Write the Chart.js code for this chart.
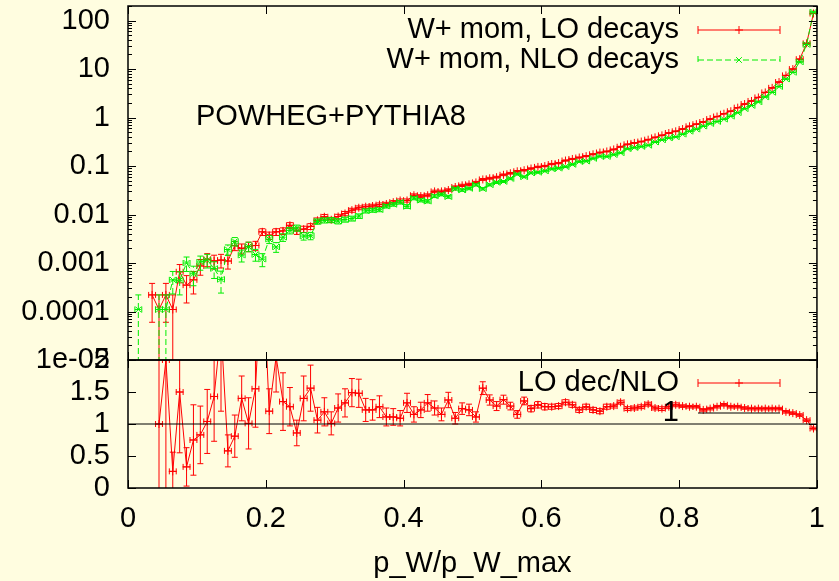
<!DOCTYPE html>
<html>
<head>
<meta charset="utf-8">
<script src="https://cdn.jsdelivr.net/npm/chart.js@4/dist/chart.umd.min.js"></script>
<style>
  html, body { margin: 0; padding: 0; background: #fffde0; }
  #wrap { width: 839px; height: 581px; }
</style>
</head>
<body>
<div id="wrap"><canvas id="c" width="839" height="581"></canvas></div>
<script>
// bin centres of p_W/p_W_max
const xBins = [
  0.005, 0.015, 0.025, 0.035, 0.045, 0.055, 0.065, 0.075, 0.085, 0.095,
  0.105, 0.115, 0.125, 0.135, 0.145, 0.155, 0.165, 0.175, 0.185, 0.195,
  0.205, 0.215, 0.225, 0.235, 0.245, 0.255, 0.265, 0.275, 0.285, 0.295,
  0.305, 0.315, 0.325, 0.335, 0.345, 0.355, 0.365, 0.375, 0.385, 0.395,
  0.405, 0.415, 0.425, 0.435, 0.445, 0.455, 0.465, 0.475, 0.485, 0.495,
  0.505, 0.515, 0.525, 0.535, 0.545, 0.555, 0.565, 0.575, 0.585, 0.595,
  0.605, 0.615, 0.625, 0.635, 0.645, 0.655, 0.665, 0.675, 0.685, 0.695,
  0.705, 0.715, 0.725, 0.735, 0.745, 0.755, 0.765, 0.775, 0.785, 0.795,
  0.805, 0.815, 0.825, 0.835, 0.845, 0.855, 0.865, 0.875, 0.885, 0.895,
  0.905, 0.915, 0.925, 0.935, 0.945, 0.955, 0.965, 0.975, 0.985, 0.995
];
const halfBin = 0.005;

// W+ mom, LO decays
const loDecays = [
  null, null, null, 2.2e-4, 1.1e-4, 2.2e-4, 1.1e-4, 6.6e-4, 3.5e-4, 4.5e-4,
  8.7e-4, 1.2e-3, 1.1e-3, 1.15e-3, 1.1e-3, 2.3e-3, 2.0e-3, 2.2e-3, 2.3e-3, 4.4e-3,
  3.7e-3, 4.4e-3, 4.6e-3, 6.0e-3, 4.6e-3, 5.0e-3, 5.7e-3, 7.6e-3, 9.0e-3, 7.8e-3,
  9.1e-3, 1.05e-2, 1.23e-2, 1.38e-2, 1.45e-2, 1.5e-2, 1.6e-2, 1.65e-2, 1.8e-2, 1.95e-2,
  1.95e-2, 2.5e-2, 2.4e-2, 2.5e-2, 3.0e-2, 3.0e-2, 3.2e-2, 3.7e-2, 4.0e-2, 4.2e-2,
  4.6e-2, 5.3e-2, 5.6e-2, 5.9e-2, 6.6e-2, 7.1e-2, 7.8e-2, 8.2e-2, 8.9e-2, 9.6e-2,
  0.100, 0.110, 0.115, 0.130, 0.140, 0.150, 0.160, 0.175, 0.190, 0.200,
  0.220, 0.250, 0.280, 0.300, 0.320, 0.350, 0.390, 0.430, 0.480, 0.520,
  0.580, 0.660, 0.730, 0.810, 0.930, 1.05, 1.20, 1.35, 1.60, 1.90,
  2.20, 2.60, 3.30, 4.10, 5.40, 7.40, 10.0, 16.0, 34.0, 140
];
const loErr = [
  0, 0, 0, 1.6e-4, 1.1e-4, 1.6e-4, 1.1e-4, 2.7e-4, 2.0e-4, 2.2e-4,
  3.1e-4, 3.6e-4, 3.5e-4, 3.6e-4, 3.5e-4, 5.0e-4, 4.7e-4, 4.9e-4, 5.0e-4, 7.0e-4,
  6.4e-4, 7.0e-4, 7.1e-4, 8.1e-4, 7.1e-4, 7.4e-4, 7.9e-4, 9.1e-4, 1.0e-3, 9.3e-4,
  1.0e-3, 1.07e-3, 1.16e-3, 1.23e-3, 1.26e-3, 1.28e-3, 1.33e-3, 1.35e-3, 1.4e-3, 1.46e-3,
  1.46e-3, 1.66e-3, 1.62e-3, 1.66e-3, 1.8e-3, 1.8e-3, 1.9e-3, 2.0e-3, 2.1e-3, 2.15e-3,
  2.25e-3, 2.4e-3, 2.5e-3, 2.5e-3, 2.7e-3, 2.8e-3, 2.9e-3, 3.0e-3, 3.1e-3, 3.2e-3,
  3.3e-3, 3.5e-3, 3.6e-3, 3.8e-3, 3.9e-3, 4.1e-3, 4.2e-3, 4.4e-3, 4.6e-3, 4.7e-3,
  4.9e-3, 5.2e-3, 5.5e-3, 5.7e-3, 5.9e-3, 6.2e-3, 6.5e-3, 6.9e-3, 7.3e-3, 7.6e-3,
  8.0e-3, 8.5e-3, 9.0e-3, 9.4e-3, 1.0e-2, 1.07e-2, 1.15e-2, 1.2e-2, 1.3e-2, 1.45e-2,
  1.56e-2, 1.7e-2, 1.9e-2, 2.1e-2, 2.4e-2, 2.9e-2, 3.3e-2, 4.2e-2, 6.1e-2, 0.124
];

// W+ mom, NLO decays
const nloDecays = [
  null, 1.1e-4, null, null, 1.1e-4, 1.1e-4, 4.5e-4, 4.4e-4, 1.0e-3, 6.0e-4,
  1.05e-3, 1.15e-3, 7.7e-4, 4.6e-4, 1.9e-3, 2.8e-3, 1.45e-3, 2.2e-3, 1.5e-3, 1.2e-3,
  3.1e-3, 2.15e-3, 3.4e-3, 4.7e-3, 5.3e-3, 3.6e-3, 3.65e-3, 7.2e-3, 7.6e-3, 7.7e-3,
  7.3e-3, 7.9e-3, 8.3e-3, 9.3e-3, 1.19e-2, 1.23e-2, 1.26e-2, 1.49e-2, 1.62e-2, 1.79e-2,
  1.47e-2, 2.17e-2, 1.97e-2, 1.88e-2, 2.4e-2, 2.6e-2, 2.33e-2, 3.4e-2, 3.2e-2, 3.45e-2,
  4.1e-2, 3.4e-2, 4.1e-2, 4.6e-2, 4.8e-2, 5.5e-2, 6.8e-2, 6.0e-2, 7.2e-2, 7.4e-2,
  7.9e-2, 8.7e-2, 9.0e-2, 9.7e-2, 0.108, 0.123, 0.126, 0.143, 0.158, 0.157,
  0.172, 0.187, 0.226, 0.240, 0.252, 0.267, 0.312, 0.347, 0.378, 0.400,
  0.453, 0.520, 0.575, 0.664, 0.750, 0.827, 0.923, 1.063, 1.26, 1.52,
  1.77, 2.10, 2.66, 3.31, 4.35, 6.22, 8.55, 14.0, 32.1, 150
];
const nloErr = [
  0, 1.1e-4, 0, 0, 1.1e-4, 1.1e-4, 2.2e-4, 2.2e-4, 3.3e-4, 2.6e-4,
  3.4e-4, 3.6e-4, 2.9e-4, 2.2e-4, 4.6e-4, 5.5e-4, 4.0e-4, 4.9e-4, 4.1e-4, 3.6e-4,
  5.8e-4, 4.9e-4, 6.1e-4, 7.2e-4, 7.6e-4, 6.3e-4, 6.3e-4, 8.9e-4, 9.1e-4, 9.2e-4,
  9.0e-4, 9.3e-4, 9.6e-4, 1.0e-3, 1.14e-3, 1.16e-3, 1.18e-3, 1.28e-3, 1.33e-3, 1.4e-3,
  1.27e-3, 1.55e-3, 1.47e-3, 1.44e-3, 1.62e-3, 1.7e-3, 1.6e-3, 1.93e-3, 1.88e-3, 1.95e-3,
  2.1e-3, 1.93e-3, 2.1e-3, 2.25e-3, 2.3e-3, 2.5e-3, 2.7e-3, 2.6e-3, 2.8e-3, 2.85e-3,
  2.95e-3, 3.1e-3, 3.15e-3, 3.3e-3, 3.45e-3, 3.7e-3, 3.7e-3, 4.0e-3, 4.2e-3, 4.2e-3,
  4.35e-3, 4.5e-3, 5.0e-3, 5.1e-3, 5.3e-3, 5.4e-3, 5.9e-3, 6.2e-3, 6.4e-3, 6.6e-3,
  7.1e-3, 7.6e-3, 8.0e-3, 8.5e-3, 9.1e-3, 9.5e-3, 1.0e-2, 1.08e-2, 1.18e-2, 1.3e-2,
  1.4e-2, 1.5e-2, 1.7e-2, 1.9e-2, 2.2e-2, 2.6e-2, 3.1e-2, 3.9e-2, 5.9e-2, 0.128
];

// LO dec/NLO
const ratio = [
  null, null, null, null, 1.0, 2.0, 0.26, 1.5, 0.33, 0.75,
  0.83, 1.04, 1.43, 2.5, 0.58, 0.81, 1.4, 1.01, 1.55, 3.6,
  1.2, 2.05, 1.35, 1.27, 0.86, 1.4, 1.56, 1.06, 1.19, 1.01,
  1.25, 1.33, 1.49, 1.48, 1.22, 1.22, 1.27, 1.11, 1.11, 1.09,
  1.33, 1.15, 1.22, 1.33, 1.25, 1.15, 1.375, 1.09, 1.24, 1.22,
  1.11, 1.56, 1.375, 1.28, 1.38, 1.28, 1.15, 1.36, 1.24, 1.3,
  1.27, 1.27, 1.28, 1.34, 1.30, 1.22, 1.27, 1.22, 1.2, 1.27,
  1.28, 1.34, 1.24, 1.25, 1.27, 1.31, 1.25, 1.24, 1.27, 1.3,
  1.28, 1.27, 1.27, 1.22, 1.24, 1.27, 1.3, 1.27, 1.27, 1.25,
  1.24, 1.24, 1.24, 1.24, 1.24, 1.19, 1.17, 1.14, 1.06, 0.93
];
const ratioErr = [
  0, 0, 0, 0, 1.4, 2.4, 0.3, 0.95, 0.3, 0.55,
  0.45, 0.5, 0.7, 1.3, 0.25, 0.33, 0.35, 0.4, 0.6, 1.2,
  0.35, 0.55, 0.45, 0.3, 0.2, 0.35, 0.36, 0.2, 0.22, 0.18,
  0.22, 0.22, 0.22, 0.22, 0.18, 0.16, 0.17, 0.14, 0.13, 0.12,
  0.15, 0.12, 0.12, 0.13, 0.11, 0.1, 0.12, 0.09, 0.09, 0.09,
  0.08, 0.1, 0.08, 0.07, 0.07, 0.06, 0.06, 0.06, 0.05, 0.05,
  0.05, 0.04, 0.04, 0.04, 0.04, 0.04, 0.04, 0.04, 0.04, 0.04,
  0.03, 0.03, 0.03, 0.03, 0.03, 0.03, 0.03, 0.03, 0.03, 0.03,
  0.02, 0.02, 0.02, 0.02, 0.02, 0.02, 0.02, 0.02, 0.02, 0.02,
  0.02, 0.02, 0.02, 0.02, 0.02, 0.02, 0.02, 0.02, 0.02, 0.02
];

// the constant 1 drawn in the ratio panel
const unityX = [0, 1];
const unityY = [1, 1];

const xTicks = [0, 0.2, 0.4, 0.6, 0.8, 1];
const xTickLabels = ['0', '0.2', '0.4', '0.6', '0.8', '1'];
const logTicks = [1e-5, 1e-4, 1e-3, 1e-2, 0.1, 1, 10, 100];
const logTickLabels = ['1e-05', '0.0001', '0.001', '0.01', '0.1', '1', '10', '100'];
const ratioTicks = [0, 0.5, 1, 1.5, 2];
const ratioTickLabels = ['0', '0.5', '1', '1.5', '2'];

const RED = '#ff0000';
const GREEN = '#00ee00';
const FONT = 'Liberation Sans, Arial, sans-serif';
const FSIZE = 29;

Chart.defaults.font.family = FONT;
Chart.defaults.font.size = FSIZE;
Chart.defaults.color = '#000';

function toPoints(xs, ys) {
  return xs.map((x, i) => ({ x: x, y: ys[i] }));
}

function drawErrorBars(chart, ds) {
  const ctx = chart.ctx;
  const xs = chart.scales.x;
  const ys = chart.scales[ds.yAxisID];
  const cap = 3;
  ctx.save();
  ctx.strokeStyle = ds.borderColor;
  ctx.lineWidth = 1;
  ctx.setLineDash(ds.borderDash || []);
  ds.data.forEach((p, i) => {
    if (p.y == null) return;
    const e = ds.errors[i];
    const px = xs.getPixelForValue(p.x);
    const py = ys.getPixelForValue(p.y);
    const x0 = xs.getPixelForValue(p.x - halfBin);
    const x1 = xs.getPixelForValue(p.x + halfBin);
    const yHi = ys.getPixelForValue(p.y + e);
    const lo = p.y - e;
    const lowOff = ys.type === 'logarithmic' && lo <= 0;
    const yLo = lowOff ? ys.bottom + 30 : ys.getPixelForValue(lo);
    ctx.beginPath();
    // vertical bar with caps
    ctx.moveTo(px, yLo); ctx.lineTo(px, yHi);
    ctx.moveTo(px - cap, yHi); ctx.lineTo(px + cap, yHi);
    if (!lowOff) { ctx.moveTo(px - cap, yLo); ctx.lineTo(px + cap, yLo); }
    // horizontal bar with caps
    ctx.moveTo(x0, py); ctx.lineTo(x1, py);
    ctx.moveTo(x0, py - cap); ctx.lineTo(x0, py + cap);
    ctx.moveTo(x1, py - cap); ctx.lineTo(x1, py + cap);
    ctx.stroke();
  });
  ctx.restore();
}

function drawKey(ctx, text, y, color, dash, pointStyle, caps) {
  const textRight = 679, s0 = 698, s1 = 780;
  ctx.save();
  ctx.fillStyle = '#000';
  ctx.font = FSIZE + 'px ' + FONT;
  ctx.textAlign = 'right';
  ctx.textBaseline = 'middle';
  ctx.fillText(text, textRight, y);
  ctx.strokeStyle = color;
  ctx.lineWidth = 1;
  ctx.setLineDash(dash);
  ctx.beginPath();
  ctx.moveTo(s0, y); ctx.lineTo(s1, y);
  if (caps) {
    ctx.moveTo(s0, y - 4); ctx.lineTo(s0, y + 4);
    ctx.moveTo(s1, y - 4); ctx.lineTo(s1, y + 4);
  }
  ctx.stroke();
  ctx.setLineDash([]);
  if (pointStyle) {
    Chart.helpers.drawPoint(ctx, { pointStyle: pointStyle, radius: 4, borderWidth: 1, rotation: 0 }, (s0 + s1) / 2, y);
  }
  ctx.restore();
}

const panelPlugin = {
  id: 'panels',
  beforeDatasetDraw(chart, args) {
    const ds = chart.data.datasets[args.index];
    const xs = chart.scales.x;
    const ys = chart.scales[ds.yAxisID];
    const ctx = chart.ctx;
    ctx.save();
    ctx.beginPath();
    ctx.rect(xs.left, ys.top, xs.right - xs.left, ys.bottom - ys.top);
    ctx.clip();
  },
  afterDatasetDraw(chart, args) {
    const ds = chart.data.datasets[args.index];
    if (ds.errors) drawErrorBars(chart, ds);
    chart.ctx.restore();
  },
  afterDraw(chart) {
    const ctx = chart.ctx;
    const xs = chart.scales.x;
    const yTop = chart.scales.y;
    const yRat = chart.scales.yr;
    const L = xs.left, R = xs.right;
    const major = 8, minor = 4;
    ctx.save();
    ctx.strokeStyle = '#000';
    ctx.lineWidth = 1;
    ctx.beginPath();
    // y ticks, log panel
    logTicks.forEach(v => {
      const p = Math.round(yTop.getPixelForValue(v)) + 0.5;
      ctx.moveTo(L, p); ctx.lineTo(L + major, p);
      ctx.moveTo(R, p); ctx.lineTo(R - major, p);
      for (let m = 2; m <= 9; m++) {
        const mv = v * m;
        if (mv > yTop.max) break;
        const q = Math.round(yTop.getPixelForValue(mv)) + 0.5;
        ctx.moveTo(L, q); ctx.lineTo(L + minor, q);
        ctx.moveTo(R, q); ctx.lineTo(R - minor, q);
      }
    });
    // y ticks, ratio panel
    ratioTicks.forEach(v => {
      const p = Math.round(yRat.getPixelForValue(v)) + 0.5;
      ctx.moveTo(L, p); ctx.lineTo(L + major, p);
      ctx.moveTo(R, p); ctx.lineTo(R - major, p);
    });
    // x ticks on both panels
    xTicks.forEach(v => {
      const p = Math.round(xs.getPixelForValue(v)) + 0.5;
      [yTop, yRat].forEach(s => {
        ctx.moveTo(p, s.top); ctx.lineTo(p, s.top + major);
        ctx.moveTo(p, s.bottom); ctx.lineTo(p, s.bottom - major);
      });
    });
    ctx.stroke();
    // frames
    ctx.lineWidth = 1.5;
    [yTop, yRat].forEach(s => {
      ctx.strokeRect(L, s.top, R - L, s.bottom - s.top);
    });
    ctx.restore();

    // keys
    const ds = chart.data.datasets;
    drawKey(ctx, ds[1].label, 30, RED, [], 'cross', true);
    drawKey(ctx, ds[0].label, 60, GREEN, [6, 3], 'crossRot', true);
    drawKey(ctx, ds[3].label, 383, RED, [], 'cross', true);
    drawKey(ctx, ds[2].label, 413, '#000', [], null, false);

    // generator label
    ctx.save();
    ctx.fillStyle = '#000';
    ctx.font = FSIZE + 'px ' + FONT;
    ctx.textAlign = 'left';
    ctx.textBaseline = 'middle';
    ctx.fillText('POWHEG+PYTHIA8', 196, 117);
    ctx.restore();
  }
};

const fixWidth = s => {
  s.width = 128;
  s.paddingTop = 0;
  s.paddingBottom = 0;
};

new Chart(document.getElementById('c'), {
  type: 'line',
  data: {
    datasets: [
      {
        label: 'W+ mom, NLO decays',
        data: toPoints(xBins, nloDecays),
        errors: nloErr,
        yAxisID: 'y',
        borderColor: GREEN,
        borderWidth: 1,
        borderDash: [6, 3],
        pointStyle: 'crossRot',
        pointRadius: 4,
        pointBorderColor: GREEN,
        pointBorderWidth: 1,
        tension: 0
      },
      {
        label: 'W+ mom, LO decays',
        data: toPoints(xBins, loDecays),
        errors: loErr,
        yAxisID: 'y',
        borderColor: RED,
        borderWidth: 1,
        pointStyle: 'cross',
        pointRadius: 4,
        pointBorderColor: RED,
        pointBorderWidth: 1,
        tension: 0
      },
      {
        label: '1',
        data: toPoints(unityX, unityY),
        yAxisID: 'yr',
        borderColor: '#000',
        borderWidth: 1,
        pointRadius: 0,
        tension: 0
      },
      {
        label: 'LO dec/NLO',
        data: toPoints(xBins, ratio),
        errors: ratioErr,
        yAxisID: 'yr',
        borderColor: RED,
        borderWidth: 1,
        pointStyle: 'cross',
        pointRadius: 4,
        pointBorderColor: RED,
        pointBorderWidth: 1,
        tension: 0
      }
    ]
  },
  options: {
    responsive: false,
    animation: false,
    events: [],
    layout: { padding: { top: 6, right: 22, left: 0, bottom: 0 } },
    plugins: { legend: { display: false }, tooltip: { enabled: false } },
    scales: {
      x: {
        type: 'linear',
        min: 0,
        max: 1,
        position: 'bottom',
        grid: { display: false, drawTicks: false },
        border: { display: false },
        afterBuildTicks: s => { s.ticks = xTicks.map(v => ({ value: v })); },
        afterFit: s => { s.height = 93; },
        ticks: {
          autoSkip: false,
          maxRotation: 0,
          padding: 14,
          callback: (v, i) => xTickLabels[i]
        },
        title: { display: true, text: 'p_W/p_W_max', padding: { top: 0, bottom: 0 } }
      },
      yr: {
        type: 'linear',
        min: 0,
        max: 2,
        position: 'left',
        stack: 'panels',
        stackWeight: 128,
        grid: { display: false, drawTicks: false },
        border: { display: false },
        afterBuildTicks: s => { s.ticks = ratioTicks.map(v => ({ value: v })); },
        afterFit: fixWidth,
        ticks: {
          autoSkip: false,
          padding: 18,
          callback: (v, i) => ratioTickLabels[i]
        }
      },
      y: {
        type: 'logarithmic',
        min: 1e-5,
        max: 200,
        position: 'left',
        stack: 'panels',
        stackWeight: 354,
        grid: { display: false, drawTicks: false },
        border: { display: false },
        afterBuildTicks: s => { s.ticks = logTicks.map(v => ({ value: v })); },
        afterFit: fixWidth,
        ticks: {
          autoSkip: false,
          padding: 18,
          callback: (v, i) => logTickLabels[i]
        }
      }
    }
  },
  plugins: [panelPlugin]
});
</script>
</body>
</html>
